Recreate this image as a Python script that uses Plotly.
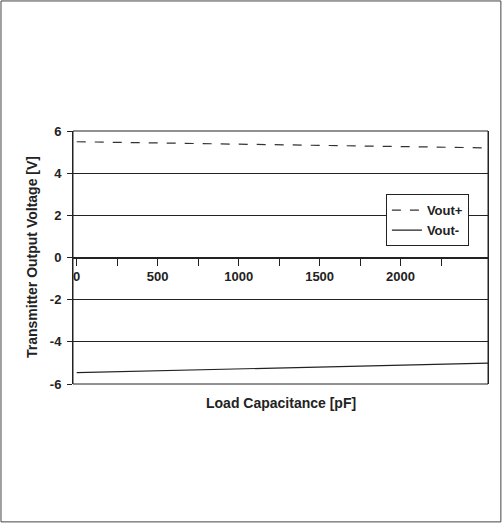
import plotly.graph_objects as go

capacitance = [0, 500, 1000, 1500, 2000, 2540]
vout_plus = [5.49, 5.43, 5.37, 5.31, 5.26, 5.2]
vout_minus = [-5.46, -5.37, -5.28, -5.19, -5.1, -5.01]
x_tick_vals = [0, 250, 500, 750, 1000, 1250, 1500, 1750, 2000, 2250]
x_tick_text = ["0", "", "500", "", "1000", "", "1500", "", "2000", ""]
y_tick_vals = [-6, -4, -2, 0, 2, 4, 6]
y_tick_text = ["-6", "-4", "-2", "0", "2", "4", "6"]

FONT = "Arial, Liberation Sans, sans-serif"
INK = "#222222"

fig = go.Figure()
fig.add_trace(go.Scatter(x=capacitance, y=vout_plus, mode="lines", name="Vout+",
                         line=dict(color="#333333", width=1.2, dash="dash")))
fig.add_trace(go.Scatter(x=capacitance, y=vout_minus, mode="lines", name="Vout-",
                         line=dict(color=INK, width=1.2)))

fig.update_layout(
    width=503, height=524,
    margin=dict(l=73, r=15, t=131, b=140),
    paper_bgcolor="white", plot_bgcolor="white",
    font=dict(family=FONT, size=13, color=INK, weight="bold"),
    showlegend=True,
    legend=dict(x=0.754, y=0.75, xanchor="left", yanchor="top",
                bordercolor=INK, borderwidth=1, bgcolor="white",
                font=dict(family=FONT, size=13, color=INK, weight="bold"),
                tracegroupgap=0, itemwidth=30),
    xaxis=dict(range=[-23, 2540], tickvals=x_tick_vals, ticktext=x_tick_text,
               ticks="outside", ticklen=7, tickcolor=INK,
               showline=True, linecolor=INK, linewidth=1,
               showgrid=False, zeroline=False,
               anchor="free", position=0.5,
               tickfont=dict(family=FONT, size=13, color=INK, weight="bold")),
    yaxis=dict(range=[-6, 6], tickvals=y_tick_vals, ticktext=y_tick_text,
               ticks="outside", ticklen=5, tickcolor=INK, ticklabelstandoff=3,
               showline=True, linecolor=INK, linewidth=1, mirror=True,
               showgrid=True, gridcolor=INK, gridwidth=1, zeroline=False,
               tickfont=dict(family=FONT, size=13, color=INK, weight="bold")),
    annotations=[
        dict(text="Load Capacitance [pF]", xref="paper", yref="paper", x=0.5, y=-0.035,
             xanchor="center", yanchor="top", showarrow=False,
             font=dict(family=FONT, size=14, color=INK, weight="bold")),
        dict(text="Transmitter Output Voltage [V]", xref="paper", yref="paper", x=-0.1, y=0.5,
             xanchor="center", yanchor="middle", textangle=-90, showarrow=False,
             font=dict(family=FONT, size=14, color=INK, weight="bold")),
    ],
    shapes=[
        dict(type="rect", xref="paper", yref="paper", x0=0, x1=1, y0=0, y1=1,
             line=dict(color=INK, width=1)),
        dict(type="rect", xref="paper", yref="paper", x0=-0.1735, x1=1.031, y0=-0.545, y1=1.514,
             line=dict(color="#444444", width=1)),
    ],
)

fig.write_html("out.html", config={"displayModeBar": False})

with open("out.html", "r", encoding="utf-8") as f:
    html = f.read()
html = html.replace("<head>", "<head><style>html,body{margin:0;padding:0;overflow:hidden;}</style>", 1)
with open("out.html", "w", encoding="utf-8") as f:
    f.write(html)
